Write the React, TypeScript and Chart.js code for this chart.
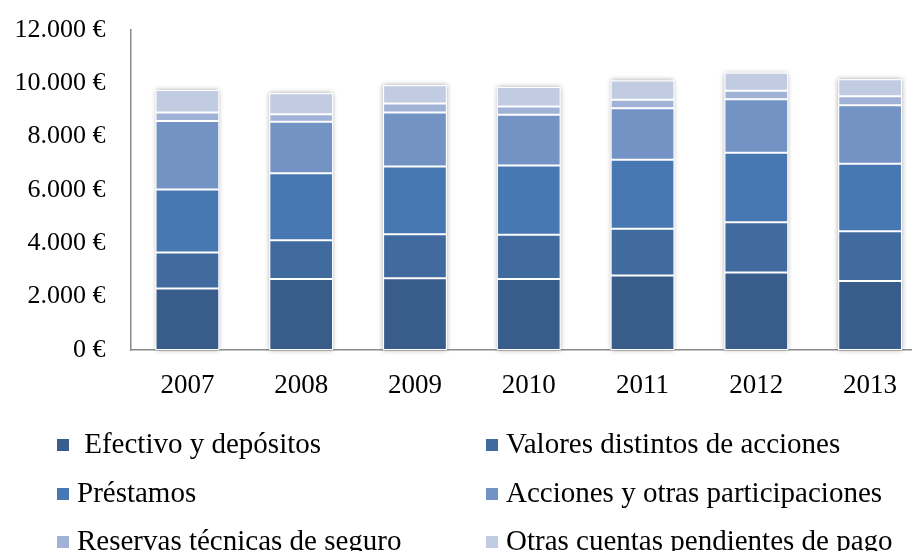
import React, { useEffect, useRef } from 'react';
import { Chart, registerables } from 'chart.js';

Chart.register(...registerables);

const years = ['2007', '2008', '2009', '2010', '2011', '2012', '2013'];
const efectivo = [2310, 2660, 2690, 2660, 2790, 2910, 2590];
const valores = [1350, 1460, 1650, 1660, 1760, 1880, 1860];
const prestamos = [2360, 2510, 2540, 2600, 2580, 2610, 2530];
const acciones = [2570, 1930, 2030, 1900, 1940, 2000, 2200];
const reservas = [320, 280, 330, 310, 310, 320, 340];
const otras = [840, 790, 690, 730, 730, 680, 630];

const seriesNames = [
  ' Efectivo y depósitos',
  'Valores distintos de acciones',
  'Préstamos',
  'Acciones y otras participaciones',
  'Reservas técnicas de seguro',
  'Otras cuentas pendientes de pago',
];
const seriesValues = [efectivo, valores, prestamos, acciones, reservas, otras];
const seriesColors = ['#395D8B', '#416B9E', '#4878B2', '#7393C4', '#A0B3D7', '#C1CCE2'];
const yMin = 0;
const yMax = 12000;
const yStep = 2000;

const FONT = "'Liberation Serif', 'Times New Roman', serif";

const fmtEuro = (v: number) =>
  String(v).replace(/\B(?=(\d{3})+(?!\d))/g, '.') + ' €';

const shadowPlugin = {
  id: 'stackShadow',
  beforeDatasetsDraw(chart: any) {
    const ctx = chart.ctx;
    const n = chart.data.datasets.length;
    const first = chart.getDatasetMeta(0);
    const last = chart.getDatasetMeta(n - 1);
    ctx.save();
    ctx.shadowColor = 'rgba(0,0,0,0.35)';
    ctx.shadowBlur = 5;
    ctx.fillStyle = '#ffffff';
    first.data.forEach((b0: any, j: number) => {
      const b1 = last.data[j];
      const top = b1.y;
      const bottom = b0.base;
      ctx.fillRect(b0.x - b0.width / 2, top, b0.width, bottom - top);
    });
    ctx.restore();
  },
};

const legendPlugin = {
  id: 'gridLegend',
  afterDraw(chart: any) {
    const ctx = chart.ctx;
    const cols = [57, 486];
    const rows = [453, 502, 550];
    ctx.save();
    ctx.font = `29px ${FONT}`;
    ctx.textBaseline = 'alphabetic';
    ctx.textAlign = 'left';
    chart.data.datasets.forEach((ds: any, i: number) => {
      const x = cols[i % 2];
      const y = rows[Math.floor(i / 2)];
      ctx.fillStyle = ds.backgroundColor;
      ctx.fillRect(x, y - 14, 12, 12);
      ctx.fillStyle = '#000000';
      ctx.fillText(ds.label, x + 20, y);
    });
    ctx.restore();
  },
};

export default function App() {
  const ref = useRef<HTMLCanvasElement | null>(null);

  useEffect(() => {
    if (!ref.current) return;
    const chart = new Chart(ref.current, {
      type: 'bar',
      data: {
        labels: years,
        datasets: seriesNames.map((name, i) => ({
          label: name,
          data: seriesValues[i],
          backgroundColor: seriesColors[i],
          borderColor: '#ffffff',
          borderWidth: 1,
          borderSkipped: false,
          barPercentage: 0.56,
          categoryPercentage: 1,
        })),
      },
      options: {
        responsive: false,
        animation: false,
        layout: { padding: { top: 30, left: 0, right: 0, bottom: 0 } },
        plugins: {
          legend: { display: false },
          tooltip: { enabled: false },
        },
        scales: {
          x: {
            stacked: true,
            grid: { display: false, drawTicks: false },
            border: { display: true, color: '#8a8a8a', width: 1.5 },
            ticks: { color: '#000', font: { family: FONT, size: 27 }, padding: 20 },
            afterFit: (s: any) => {
              s.height = 201;
              s.paddingLeft = 0;
              s.paddingRight = 0;
            },
          },
          y: {
            stacked: true,
            min: yMin,
            max: yMax,
            grid: { display: false, drawTicks: false },
            border: { display: true, color: '#8a8a8a', width: 1.5 },
            ticks: {
              stepSize: yStep,
              color: '#000',
              font: { family: FONT, size: 26 },
              padding: 25,
              callback: (v: any) => fmtEuro(Number(v)),
            },
            afterFit: (s: any) => {
              s.width = 130.5;
              s.paddingTop = 0;
              s.paddingBottom = 0;
            },
          },
        },
      },
      plugins: [shadowPlugin, legendPlugin],
    });
    return () => chart.destroy();
  }, []);

  return (
    <div
      style={{
        position: 'fixed',
        left: 0,
        top: 0,
        width: 912,
        height: 551,
        overflow: 'hidden',
        background: '#ffffff',
      }}
    >
      <canvas ref={ref} width={927} height={551} style={{ display: 'block' }} />
    </div>
  );
}
